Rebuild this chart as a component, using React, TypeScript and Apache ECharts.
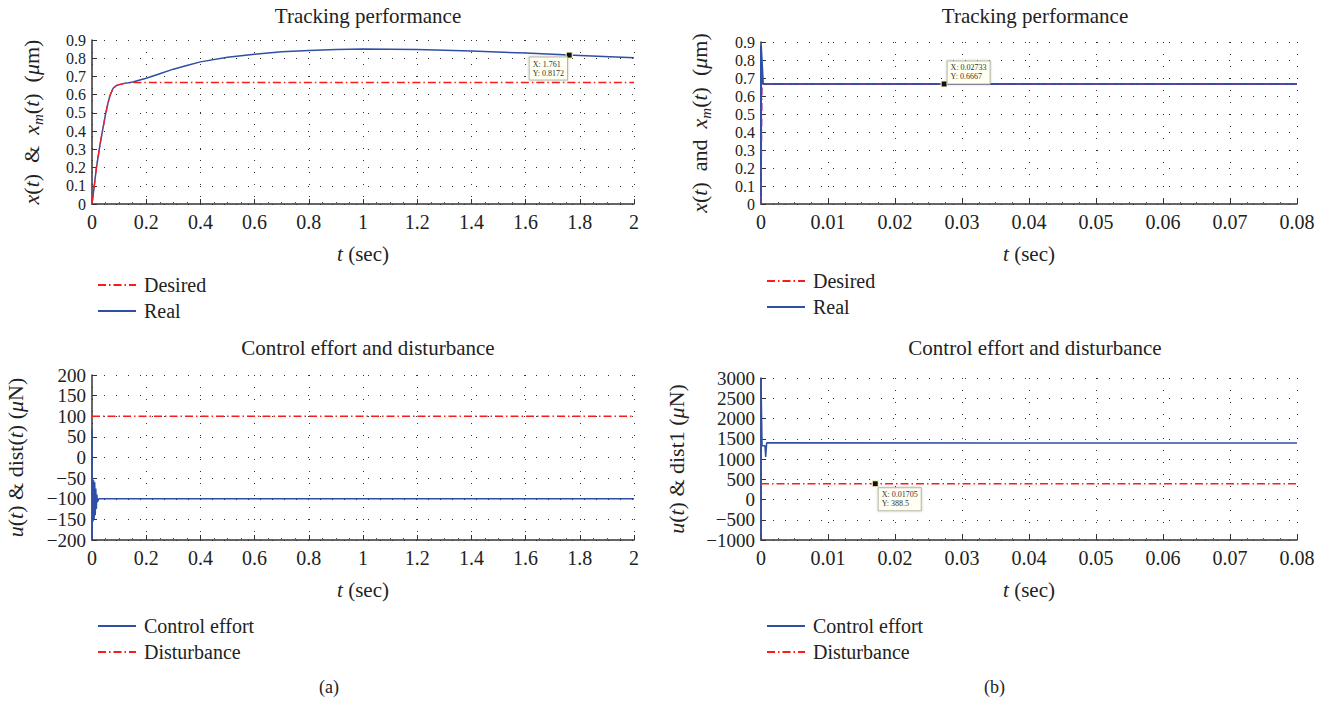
import React, { useEffect, useRef } from "react";
import * as echarts from "echarts";

// ---------- data ----------
const tlTime = [0, 0.01, 0.0164, 0.03, 0.041, 0.051, 0.06, 0.066, 0.078, 0.09, 0.1, 0.12, 0.15, 0.2, 0.25, 0.3, 0.35, 0.4, 0.5, 0.6, 0.7, 0.8, 0.9, 1.0, 1.2, 1.4, 1.6, 1.761, 1.8, 2.0];
const tlReal = [0, 0.12, 0.2, 0.33, 0.42, 0.5, 0.56, 0.594, 0.635, 0.65, 0.655, 0.662, 0.67, 0.69, 0.715, 0.74, 0.76, 0.78, 0.805, 0.822, 0.835, 0.843, 0.848, 0.85, 0.848, 0.84, 0.828, 0.8172, 0.815, 0.803];
const tlDesTime = [0, 0.01, 0.0164, 0.03, 0.041, 0.051, 0.06, 0.066, 0.078, 0.09, 0.1, 0.12, 0.15, 2.0];
const tlDesired = [0, 0.12, 0.2, 0.33, 0.42, 0.5, 0.56, 0.594, 0.635, 0.65, 0.655, 0.662, 0.6667, 0.6667];

const trRealTime = [0, 0, 0.0003, 0.08];
const trReal = [0, 0.88, 0.6667, 0.6667];
const trDesTime = [0, 0.0002, 0.08];
const trDesired = [0, 0.6667, 0.6667];

const blCtrlTime = [0, 0.0005, 0.002, 0.004, 0.006, 0.008, 0.01, 0.012, 0.014, 0.016, 0.018, 0.02, 0.025, 2.0];
const blCtrl = [70, -200, -50, -155, -55, -150, -60, -140, -75, -125, -90, -108, -100, -100];
const blDistTime = [0, 2.0];
const blDist = [100, 100];

const brCtrlTime = [0, 0, 0.00015, 0.00016, 0.0006, 0.0007, 0.00085, 0.08];
const brCtrl = [-1000, 3000, 1400, 1330, 1330, 1050, 1400, 1395];
const brDistTime = [0, 0.08];
const brDist = [388.5, 388.5];

const tipTL = [1.761, 0.8172];
const tipTR = [0.02733, 0.6667];
const tipBR = [0.01705, 388.5];

const pair = (xs: number[], ys: number[]) => xs.map((x, i) => [x, ys[i]]);

const SERIF = "'Liberation Serif', 'DejaVu Serif', serif";
const BLUE = "#2f4fa6";
const RED = "#ff1a1a";
const DASHDOT = [8, 3, 1.5, 3];
const SP = "\u2002";

const fmt = (v: number) => String(+v.toFixed(4)).replace("-", "\u2212");

function xAxis(gridIndex: number, max: number, interval: number) {
  return {
    type: "value",
    gridIndex,
    min: 0,
    max,
    interval,
    name: "{i|t} (sec)",
    nameLocation: "middle",
    nameGap: 39,
    nameTextStyle: {
      fontFamily: SERIF,
      fontSize: 21,
      color: "#222",
      rich: { i: { fontFamily: SERIF, fontSize: 21, fontStyle: "italic", color: "#222" } },
    },
    axisLine: { show: true, onZero: false, lineStyle: { color: "#333", width: 1.5 } },
    axisTick: { show: true, inside: true, length: 5, lineStyle: { color: "#333" } },
    minorTick: { show: true, splitNumber: 4, length: 2, lineStyle: { color: "#555" } },
    axisLabel: { fontFamily: SERIF, fontSize: 20, color: "#222", margin: 8, formatter: fmt, showMinLabel: true, showMaxLabel: true },
    splitLine: { show: true, lineStyle: { color: "#333", type: [1, 11], width: 1 } },
  };
}

function yAxis(gridIndex: number, min: number, max: number, interval: number, name: string, nameGap: number, labelSize: number) {
  return {
    type: "value",
    gridIndex,
    min,
    max,
    interval,
    name,
    nameLocation: "middle",
    nameGap,
    nameTextStyle: {
      fontFamily: SERIF,
      fontSize: 22,
      color: "#222",
      lineHeight: 28,
      rich: {
        i: { fontFamily: SERIF, fontSize: 22, fontStyle: "italic", color: "#222", lineHeight: 28 },
        s: { fontFamily: SERIF, fontSize: 15, fontStyle: "italic", color: "#222", lineHeight: 28, verticalAlign: "bottom" },
      },
    },
    axisLine: { show: true, onZero: false, lineStyle: { color: "#333", width: 1.5 } },
    axisTick: { show: true, inside: true, length: 5, lineStyle: { color: "#333" } },
    axisLabel: {
      fontFamily: SERIF,
      fontSize: labelSize,
      color: "#222",
      margin: 6,
      formatter: fmt,
      showMinLabel: true,
      showMaxLabel: true,
    },
    splitLine: { show: true, lineStyle: { color: "#333", type: [1, 11], width: 1 } },
  };
}

function tip(coord: number[], text: string, pos: number[]) {
  return {
    symbol: "rect",
    symbolSize: 6,
    itemStyle: { color: "#111", borderColor: "#ffffcc", borderWidth: 1 },
    data: [{ coord }],
    label: {
      show: true,
      formatter: text,
      position: pos,
      align: "left",
      verticalAlign: "top",
      fontFamily: SERIF,
      fontSize: 8,
      lineHeight: 9,
      color: "#333",
      backgroundColor: "#fffff2",
      borderColor: "#b8b8a8",
      borderWidth: 1,
      padding: [2, 3],
      shadowColor: "rgba(0,0,0,0.25)",
      shadowBlur: 2,
    },
  };
}

function legend(left: number, top: number, names: string[]) {
  return {
    orient: "vertical",
    left,
    top,
    padding: 0,
    itemWidth: 38,
    itemHeight: 12,
    itemGap: 6,
    selectedMode: false,
    data: names,
    itemStyle: { opacity: 0 },
    textStyle: { fontFamily: SERIF, fontSize: 20, color: "#222", padding: [0, 0, 0, 3] },
  };
}

function title(text: string, left: number, top: number) {
  return {
    text,
    left,
    top,
    textAlign: "center",
    textStyle: { fontFamily: SERIF, fontSize: 21, fontWeight: "normal", color: "#222" },
  };
}

export default function App() {
  const ref = useRef<HTMLDivElement>(null);
  useEffect(() => {
    document.body.style.margin = "0";
    const chart = echarts.init(ref.current!, undefined, { renderer: "svg" });
    const lineBase = { type: "line", symbol: "none", animation: false, clip: true };
    chart.setOption({
      animation: false,
      backgroundColor: "#fff",
      title: [
        title("Tracking performance", 363, 0),
        title("Tracking performance", 1030, 0),
        title("Control effort and disturbance", 363, 332),
        title("Control effort and disturbance", 1030, 332),
      ],
      grid: [
        { left: 92, top: 40, width: 542, height: 164 },
        { left: 761, top: 42, width: 536, height: 162 },
        { left: 92, top: 375, width: 542, height: 165 },
        { left: 761, top: 378, width: 536, height: 162 },
      ],
      xAxis: [xAxis(0, 2, 0.2), xAxis(1, 0.08, 0.01), xAxis(2, 2, 0.2), xAxis(3, 0.08, 0.01)],
      yAxis: [
        yAxis(0, 0, 0.9, 0.1, `{i|x}({i|t})${SP}&${SP}{i|x}{s|m}({i|t})${SP}({i|μ}m)`, 47, 16),
        yAxis(1, 0, 0.9, 0.1, `{i|x}({i|t})${SP}and${SP}{i|x}{s|m}({i|t})${SP}({i|μ}m)`, 48, 16),
        yAxis(2, -200, 200, 50, "{i|u}({i|t}) & dist({i|t}) ({i|μ}N)", 63, 19),
        yAxis(3, -1000, 3000, 500, "{i|u}({i|t}) & dist1 ({i|μ}N)", 71, 19),
      ],
      legend: [
        legend(97, 275, ["Desired", "Real"]),
        legend(766, 271, ["Desired", "Real"]),
        legend(97, 616, ["Control effort", "Disturbance"]),
        legend(766, 616, ["Control effort", "Disturbance"]),
      ],
      series: [
        { ...lineBase, name: "Real", xAxisIndex: 0, yAxisIndex: 0, data: pair(tlTime, tlReal), lineStyle: { color: BLUE, width: 1.5 }, itemStyle: { color: BLUE }, z: 2,
          markPoint: tip(tipTL, "X: 1.761\nY: 0.8172", [-36, 6]) },
        { ...lineBase, name: "Desired", xAxisIndex: 0, yAxisIndex: 0, data: pair(tlDesTime, tlDesired), lineStyle: { color: RED, width: 1.3, type: DASHDOT }, itemStyle: { color: RED }, z: 3 },
        { ...lineBase, name: "Real", xAxisIndex: 1, yAxisIndex: 1, data: pair(trRealTime, trReal), lineStyle: { color: BLUE, width: 2 }, itemStyle: { color: BLUE }, z: 2,
          markPoint: tip(tipTR, "X: 0.02733\nY: 0.6667", [7, -19]) },
        { ...lineBase, name: "Desired", xAxisIndex: 1, yAxisIndex: 1, data: pair(trDesTime, trDesired), lineStyle: { color: "#9a3a8a", width: 1.2, type: DASHDOT, opacity: 0.8 }, itemStyle: { color: RED }, z: 3 },
        { ...lineBase, name: "Control effort", xAxisIndex: 2, yAxisIndex: 2, data: pair(blCtrlTime, blCtrl), lineStyle: { color: BLUE, width: 1.5 }, itemStyle: { color: BLUE }, z: 2 },
        { ...lineBase, name: "Disturbance", xAxisIndex: 2, yAxisIndex: 2, data: pair(blDistTime, blDist), lineStyle: { color: RED, width: 1.3, type: DASHDOT }, itemStyle: { color: RED }, z: 3 },
        { ...lineBase, name: "Control effort", xAxisIndex: 3, yAxisIndex: 3, data: pair(brCtrlTime, brCtrl), lineStyle: { color: BLUE, width: 1.5 }, itemStyle: { color: BLUE }, z: 2 },
        { ...lineBase, name: "Disturbance", xAxisIndex: 3, yAxisIndex: 3, data: pair(brDistTime, brDist), lineStyle: { color: RED, width: 1.3, type: DASHDOT }, itemStyle: { color: RED }, z: 3,
          markPoint: tip(tipBR, "X: 0.01705\nY: 388.5", [7, 8]) },
      ],
      graphic: [
        { type: "text", left: 319, top: 678, style: { text: "(a)", font: `18px ${SERIF}`, fill: "#222" } },
        { type: "text", left: 984, top: 678, style: { text: "(b)", font: `18px ${SERIF}`, fill: "#222" } },
      ],
    });
    return () => chart.dispose();
  }, []);
  return <div ref={ref} style={{ width: 1331, height: 703 }} />;
}
